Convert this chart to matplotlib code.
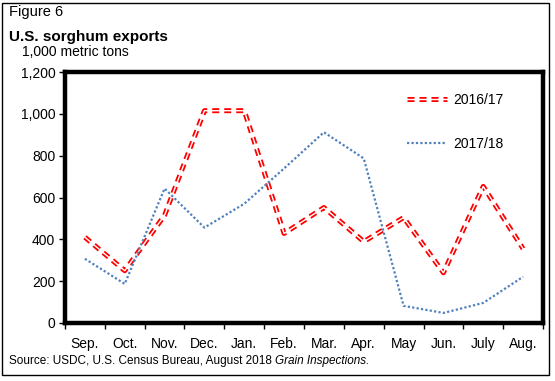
import matplotlib
matplotlib.use("Agg")
import matplotlib.pyplot as plt
from matplotlib.patches import Rectangle
from matplotlib.legend_handler import HandlerTuple

months = ["Sep.", "Oct.", "Nov.", "Dec.", "Jan.", "Feb.", "Mar.", "Apr.", "May", "Jun.", "July", "Aug."]
# 1,000 metric tons
exports_1617 = [410, 250, 515, 1015, 1015, 428, 552, 389, 504, 240, 653, 355]
exports_1718 = [307, 187, 643, 456, 570, 739, 912, 787, 82, 48, 96, 221]
yticks = [0, 200, 400, 600, 800, 1000, 1200]

plt.rcParams['font.family'] = ['Liberation Sans', 'DejaVu Sans']

W, H = 555, 381
fig = plt.figure(figsize=(W/100, H/100), dpi=100)
ax = fig.add_axes([65/W, 1-323/H, (543-65)/W, (323-72)/H])

x = list(range(len(months)))

# red double dashed line: thick red dashes with a thin white core
red, = ax.plot(x, exports_1617, color='#FF0000', lw=3.6, dashes=(1.4, 1.0),
               dash_capstyle='butt', zorder=3)
core, = ax.plot(x, exports_1617, color='white', lw=1.0, zorder=4)
blue, = ax.plot(x, exports_1718, color='#4F81BD', lw=1.6, dashes=(1, 1),
                dash_capstyle='butt', zorder=5)

ax.set_xlim(-0.5, len(months)-0.5)
ax.set_ylim(0, 1200)
ax.set_yticks(yticks)
ax.set_yticklabels([f"{v:,}" for v in yticks], fontsize=10)
ax.set_xticks(x)
ax.set_xticklabels(months, fontsize=10)
ax.set_xticks([i-0.5 for i in range(len(months)+1)], minor=True)
ax.tick_params(axis='x', which='major', length=0, pad=10)
ax.tick_params(axis='x', which='minor', length=4, width=1, direction='out')
ax.tick_params(axis='y', length=4, width=1, direction='out', pad=3)
for s in ax.spines.values():
    s.set_linewidth(3.2)

ax.legend([(red, core), blue], ["2016/17", "2017/18"],
          handler_map={tuple: HandlerTuple(ndivide=1)},
          loc='upper left', bbox_to_anchor=(0.715, 0.918), frameon=False,
          fontsize=10, handlelength=2.9, handletextpad=0.45, labelspacing=2.2,
          borderpad=0, borderaxespad=0)

fig.text(9/W, 1-12/H, "Figure 6", fontsize=10.5, va='center', ha='left')
fig.text(9/W, 1-37/H, "U.S. sorghum exports", fontsize=11, fontweight='bold',
         va='center', ha='left')
fig.text(22/W, 1-52/H, "1,000 metric tons", fontsize=10, va='center', ha='left')
src = fig.text(9/W, 1-361/H, "Source: USDC, U.S. Census Bureau, August 2018", fontsize=8.5,
               va='center', ha='left')
renderer = fig.canvas.get_renderer()
bb = src.get_window_extent(renderer)
fig.text((bb.x1 + 3)/W, 1-361/H, "Grain Inspections.", fontsize=8.5, style='italic',
         va='center', ha='left')

fig.patches.append(Rectangle((1.5/W, 1-375/H), 547.5/W, 372.5/H, transform=fig.transFigure,
                             fill=False, edgecolor='black', lw=1.0))

fig.savefig("out.png", dpi=100)
